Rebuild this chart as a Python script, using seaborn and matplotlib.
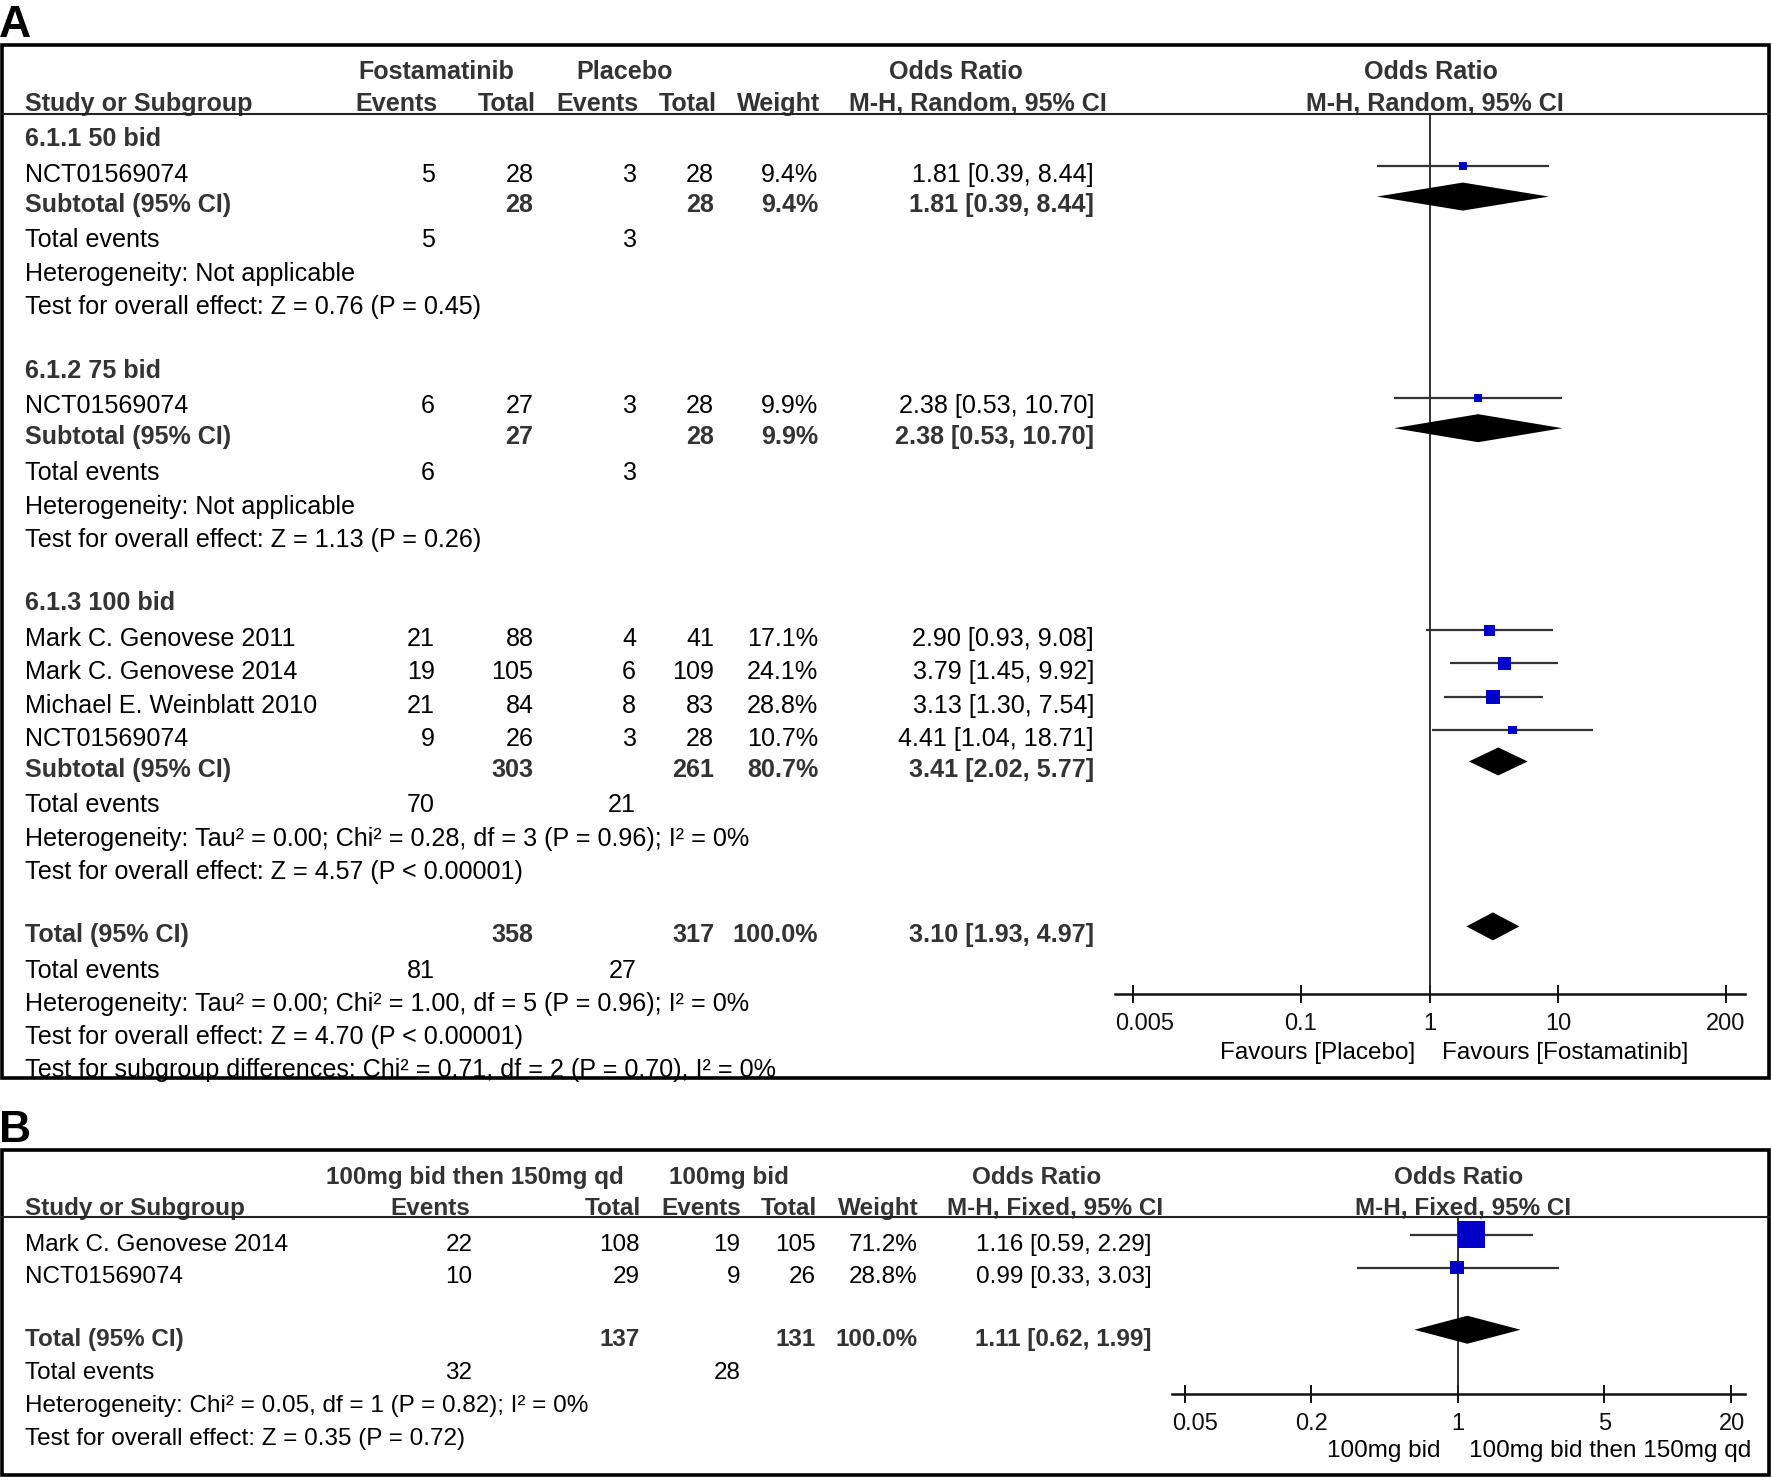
#!/usr/bin/env python3
"""
Forest plots (RevMan style) for fostamatinib vs placebo and
100mg bid then 150mg qd vs 100mg bid.
"""
from functools import partial
import matplotlib
matplotlib.use("Agg")
import matplotlib.pyplot as plt
from matplotlib import transforms
from matplotlib.patches import Rectangle
from matplotlib.ticker import NullLocator, FixedLocator, FixedFormatter
import pandas as pd
import seaborn as sns

sns.set_theme(style="white")
plt.rcParams['font.family'] = ['Liberation Sans', 'DejaVu Sans']

# ---------------- Panel A data ----------------
a_groups = ["6.1.1 50 bid", "6.1.2 75 bid", "6.1.3 100 bid"]
a_study = ["NCT01569074", "NCT01569074", "Mark C. Genovese 2011",
           "Mark C. Genovese 2014", "Michael E. Weinblatt 2010", "NCT01569074"]
a_exp_events = [5, 6, 21, 19, 21, 9]
a_exp_total = [28, 27, 88, 105, 84, 26]
a_ctl_events = [3, 3, 4, 6, 8, 3]
a_ctl_total = [28, 28, 41, 109, 83, 28]
a_weight = [9.4, 9.9, 17.1, 24.1, 28.8, 10.7]
a_or = [1.81, 2.38, 2.90, 3.79, 3.13, 4.41]
a_lo = [0.39, 0.53, 0.93, 1.45, 1.30, 1.04]
a_hi = [8.44, 10.70, 9.08, 9.92, 7.54, 18.71]

# subtotals 6.1.1, 6.1.2, 6.1.3 and the overall total
a_pool_label = ["Subtotal (95% CI)", "Subtotal (95% CI)", "Subtotal (95% CI)", "Total (95% CI)"]
a_pool_exp_total = [28, 27, 303, 358]
a_pool_ctl_total = [28, 28, 261, 317]
a_pool_weight = [9.4, 9.9, 80.7, 100.0]
a_pool_or = [1.81, 2.38, 3.41, 3.10]
a_pool_lo = [0.39, 0.53, 2.02, 1.93]
a_pool_hi = [8.44, 10.70, 5.77, 4.97]
a_pool_exp_events = [5, 6, 70, 81]
a_pool_ctl_events = [3, 3, 21, 27]
a_het = ["Heterogeneity: Not applicable",
         "Heterogeneity: Not applicable",
         "Heterogeneity: Tau² = 0.00; Chi² = 0.28, df = 3 (P = 0.96); I² = 0%",
         "Heterogeneity: Tau² = 0.00; Chi² = 1.00, df = 5 (P = 0.96); I² = 0%"]
a_effect = ["Test for overall effect: Z = 0.76 (P = 0.45)",
            "Test for overall effect: Z = 1.13 (P = 0.26)",
            "Test for overall effect: Z = 4.57 (P < 0.00001)",
            "Test for overall effect: Z = 4.70 (P < 0.00001)"]
a_subgroup_diff = "Test for subgroup differences: Chi² = 0.71, df = 2 (P = 0.70), I² = 0%"
a_ticks = [0.005, 0.1, 1, 10, 200]
a_tick_labels = ["0.005", "0.1", "1", "10", "200"]

# ---------------- Panel B data ----------------
b_study = ["Mark C. Genovese 2014", "NCT01569074"]
b_exp_events = [22, 10]
b_exp_total = [108, 29]
b_ctl_events = [19, 9]
b_ctl_total = [105, 26]
b_weight = [71.2, 28.8]
b_or = [1.16, 0.99]
b_lo = [0.59, 0.33]
b_hi = [2.29, 3.03]
b_pool_exp_total = [137]
b_pool_ctl_total = [131]
b_pool_weight = [100.0]
b_pool_or = [1.11]
b_pool_lo = [0.62]
b_pool_hi = [1.99]
b_pool_exp_events = [32]
b_pool_ctl_events = [28]
b_het = "Heterogeneity: Chi² = 0.05, df = 1 (P = 0.82); I² = 0%"
b_effect = "Test for overall effect: Z = 0.35 (P = 0.72)"
b_ticks = [0.05, 0.2, 1, 5, 20]
b_tick_labels = ["0.05", "0.2", "1", "5", "20"]

# ---------------- layout (in layout units, figure = W x H) ----------------
W, H = 1568, 1310
FS_A = 18.1
FS_B = 17.5
BOLD_C = '#333333'
A_COLS = [385, 472, 563, 632, 724, 968]
B_COLS = [418, 566, 655, 722, 812, 1019]
A_GROUP_Y = [121, 327, 532]
A_STUDY_Y = [153, 358, 564, 593, 623, 652]
A_POOL_Y = [180, 385, 680, 826]
A_EVT_Y = [211, 417, 711, 858]
A_HET_Y = [241, 447, 741, 887]
A_EFF_Y = [270, 476, 770, 916]
B_STUDY_Y = [1099, 1128]
B_POOL_Y = [1183]
MARK_SHIFT = -6     # RevMan draws the marks a little above the text middle
DIAMOND_H = 12.4
TICK_LEN = 12.5
TICK_PAD = 7.2


def put(ax, x, y, s, ha='left', bold=False, size=FS_A):
    """Write one table cell; y is the visual middle of the capitals"""
    return ax.text(x, y + 8, s, ha=ha, va='baseline', fontsize=size,
                   fontweight='bold' if bold else 'normal',
                   color=BOLD_C if bold else 'black')


def fmt_ci(est, lo, hi):
    return f"{est:.2f} [{lo:.2f}, {hi:.2f}]"


def draw_forest(fig, ax, studies, pooled, xlim, ylim, ticks, labels, sizes):
    """Squares, CI whiskers and diamonds on a log odds-ratio axis"""
    ax.set_xscale('log')
    ax.patch.set_visible(False)
    ax.axvline(1, color='#222222', lw=1.3, zorder=1)
    ax.hlines(studies['y'], studies['lo'], studies['hi'],
              color='#333333', lw=1.6, zorder=2)
    sns.scatterplot(data=studies, x='est', y='y', size='weight', sizes=sizes,
                    marker='s', color='#0000c8', linewidth=0, legend=False,
                    ax=ax, zorder=3)
    for r in pooled.itertuples():
        ax.fill([r.lo, r.est, r.hi, r.est],
                [r.y, r.y - DIAMOND_H, r.y, r.y + DIAMOND_H],
                color='black', lw=0, zorder=3)
    ax.set_xlim(*xlim)
    ax.set_ylim(*ylim)
    ax.set_xlabel('')
    ax.set_ylabel('')
    ax.set_yticks([])
    for side in ['left', 'top', 'right']:
        ax.spines[side].set_visible(False)
    ax.spines['bottom'].set_color('#111111')
    ax.spines['bottom'].set_linewidth(1.8)
    # the outer labels are kept inside the axis line, as RevMan does
    inner = [''] + labels[1:-1] + ['']
    ax.xaxis.set_major_locator(FixedLocator(ticks))
    ax.xaxis.set_major_formatter(FixedFormatter(inner))
    ax.xaxis.set_minor_locator(NullLocator())
    ax.tick_params(axis='x', bottom=True, direction='inout', length=TICK_LEN,
                   width=1.4, color='#111111', labelsize=17, pad=TICK_PAD,
                   labelcolor='#111111')
    below = transforms.offset_copy(ax.transAxes, fig=fig, x=0,
                                   y=-(TICK_LEN / 2 + TICK_PAD), units='points')
    ax.text(0, 0, labels[0], transform=below, ha='left', va='top',
            fontsize=17, color='#111111')
    ax.text(1, 0, labels[-1], transform=below, ha='right', va='top',
            fontsize=17, color='#111111')


def main():
    fig = plt.figure(figsize=(17.72, 14.80), dpi=100)
    ax0 = fig.add_axes([0, 0, 1, 1])
    ax0.set_xlim(0, W)
    ax0.set_ylim(H, 0)
    ax0.axis('off')

    pa = partial(put, ax0, size=FS_A)
    pb = partial(put, ax0, size=FS_B)

    # ---------- panel A frame ----------
    ax0.text(-1, 33, "A", fontsize=32, fontweight='bold', color='black',
             ha='left', va='baseline')
    ax0.add_patch(Rectangle((2, 40), 1563, 914, fill=False, lw=2.6, ec='black', zorder=5))
    ax0.plot([2, 1565], [101, 101], color='#222222', lw=1.5, zorder=5)

    pa(386, 62, "Fostamatinib", ha='center', bold=True)
    pa(553, 62, "Placebo", ha='center', bold=True)
    pa(846, 62, "Odds Ratio", ha='center', bold=True)
    pa(1266, 62, "Odds Ratio", ha='center', bold=True)
    pa(22, 90, "Study or Subgroup", bold=True)
    for x, s in zip(A_COLS[:5], ["Events", "Total", "Events", "Total", "Weight"]):
        pa(x + 2, 90, s, ha='right', bold=True)
    pa(865, 90, "M-H, Random, 95% CI", ha='center', bold=True)
    pa(1270, 90, "M-H, Random, 95% CI", ha='center', bold=True)

    for g, y in zip(a_groups, A_GROUP_Y):
        pa(22, y, g, bold=True)
    for i, y in enumerate(A_STUDY_Y):
        pa(22, y, a_study[i])
        vals = [a_exp_events[i], a_exp_total[i], a_ctl_events[i], a_ctl_total[i],
                f"{a_weight[i]:.1f}%", fmt_ci(a_or[i], a_lo[i], a_hi[i])]
        for x, v in zip(A_COLS, vals):
            pa(x, y, str(v), ha='right')
    for j, y in enumerate(A_POOL_Y):
        pa(22, y, a_pool_label[j], bold=True)
        pa(A_COLS[1], y, str(a_pool_exp_total[j]), ha='right', bold=True)
        pa(A_COLS[3], y, str(a_pool_ctl_total[j]), ha='right', bold=True)
        pa(A_COLS[4], y, f"{a_pool_weight[j]:.1f}%", ha='right', bold=True)
        pa(A_COLS[5], y, fmt_ci(a_pool_or[j], a_pool_lo[j], a_pool_hi[j]),
           ha='right', bold=True)
        pa(22, A_EVT_Y[j], "Total events")
        pa(A_COLS[0], A_EVT_Y[j], str(a_pool_exp_events[j]), ha='right')
        pa(A_COLS[2], A_EVT_Y[j], str(a_pool_ctl_events[j]), ha='right')
        pa(22, A_HET_Y[j], a_het[j])
        pa(22, A_EFF_Y[j], a_effect[j])
    t = pa(22, 945, a_subgroup_diff)
    t.set_clip_path(Rectangle((2, 40), 1563, 914, transform=ax0.transData))

    pa(1252, 929, "Favours [Placebo]", ha='right', size=17.5)
    pa(1276, 929, "Favours [Fostamatinib]", ha='left', size=17.5)

    # ---------- panel A forest ----------
    studies_a = pd.DataFrame({'est': a_or, 'lo': a_lo, 'hi': a_hi, 'weight': a_weight,
                              'y': [y + MARK_SHIFT for y in A_STUDY_Y]})
    pooled_a = pd.DataFrame({'est': a_pool_or, 'lo': a_pool_lo, 'hi': a_pool_hi,
                             'y': [y + MARK_SHIFT for y in A_POOL_Y]})
    ax_a = fig.add_axes([987 / W, 1 - 880 / H, (1544 - 987) / W, (880 - 101) / H])
    draw_forest(fig, ax_a, studies_a, pooled_a, (0.00364, 280), (880, 101),
                a_ticks, a_tick_labels, (3.5 * min(a_weight), 3.5 * max(a_weight)))

    # ---------- panel B frame ----------
    ax0.text(-1, 1011, "B", fontsize=32, fontweight='bold', color='black',
             ha='left', va='baseline')
    ax0.add_patch(Rectangle((2, 1018), 1563, 288, fill=False, lw=2.6, ec='black', zorder=5))
    ax0.plot([2, 1565], [1077, 1077], color='#222222', lw=1.5, zorder=5)

    pb(420, 1040, "100mg bid then 150mg qd", ha='center', bold=True)
    pb(645, 1040, "100mg bid", ha='center', bold=True)
    pb(917, 1040, "Odds Ratio", ha='center', bold=True)
    pb(1291, 1040, "Odds Ratio", ha='center', bold=True)
    pb(22, 1067, "Study or Subgroup", bold=True)
    for k, (x, s) in enumerate(zip(B_COLS[:5], ["Events", "Total", "Events", "Total", "Weight"])):
        pb(x - 2 if k == 0 else x + 1, 1067, s, ha='right', bold=True)
    pb(934, 1067, "M-H, Fixed, 95% CI", ha='center', bold=True)
    pb(1295, 1067, "M-H, Fixed, 95% CI", ha='center', bold=True)

    for i, y in enumerate(B_STUDY_Y):
        pb(22, y, b_study[i])
        vals = [b_exp_events[i], b_exp_total[i], b_ctl_events[i], b_ctl_total[i],
                f"{b_weight[i]:.1f}%", fmt_ci(b_or[i], b_lo[i], b_hi[i])]
        for x, v in zip(B_COLS, vals):
            pb(x, y, str(v), ha='right')
    y = B_POOL_Y[0]
    pb(22, y, "Total (95% CI)", bold=True)
    pb(B_COLS[1], y, str(b_pool_exp_total[0]), ha='right', bold=True)
    pb(B_COLS[3], y, str(b_pool_ctl_total[0]), ha='right', bold=True)
    pb(B_COLS[4], y, f"{b_pool_weight[0]:.1f}%", ha='right', bold=True)
    pb(B_COLS[5], y, fmt_ci(b_pool_or[0], b_pool_lo[0], b_pool_hi[0]),
       ha='right', bold=True)
    pb(22, 1213, "Total events")
    pb(B_COLS[0], 1213, str(b_pool_exp_events[0]), ha='right')
    pb(B_COLS[2], 1213, str(b_pool_ctl_events[0]), ha='right')
    pb(22, 1242, b_het)
    pb(22, 1271, b_effect)

    pb(1275, 1282, "100mg bid", ha='right')
    pb(1300, 1282, "100mg bid then 150mg qd", ha='left')

    # ---------- panel B forest ----------
    studies_b = pd.DataFrame({'est': b_or, 'lo': b_lo, 'hi': b_hi, 'weight': b_weight,
                              'y': [y + MARK_SHIFT for y in B_STUDY_Y]})
    pooled_b = pd.DataFrame({'est': b_pool_or, 'lo': b_pool_lo, 'hi': b_pool_hi,
                             'y': [y + MARK_SHIFT for y in B_POOL_Y]})
    ax_b = fig.add_axes([1037 / W, 1 - 1234 / H, (1544 - 1037) / W, (1234 - 1077) / H])
    draw_forest(fig, ax_b, studies_b, pooled_b, (0.04335, 23.36), (1234, 1077),
                b_ticks, b_tick_labels, (94, 378))

    fig.savefig('out.png', dpi=100)
    plt.close(fig)


if __name__ == '__main__':
    main()
